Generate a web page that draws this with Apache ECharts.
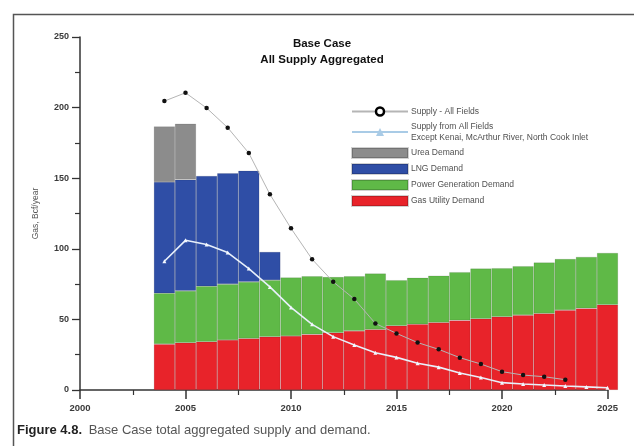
<!DOCTYPE html>
<html>
<head>
<meta charset="utf-8">
<script src="https://cdn.jsdelivr.net/npm/echarts@6/dist/echarts.min.js"></script>
<style>
  html, body { margin: 0; padding: 0; background: #fff; }
  #chart { width: 634px; height: 446px; }
</style>
</head>
<body>
<div id="chart"></div>
<script>
// Demand years (one bar per year) and gas demand by sector, Bcf/year
const years = [2004, 2005, 2006, 2007, 2008, 2009, 2010, 2011, 2012, 2013, 2014,
               2015, 2016, 2017, 2018, 2019, 2020, 2021, 2022, 2023, 2024, 2025];
const gasUtility = [32.5, 33.5, 34.2, 35.4, 36.5, 37.7, 38.2, 39.4, 40.5, 41.9, 42.9,
                    45.5, 46.6, 47.8, 49.3, 50.5, 51.9, 53.0, 54.2, 56.6, 57.8, 60.4];
const powerGen = [36.0, 36.7, 39.3, 39.6, 40.1, 40.1, 41.5, 41.2, 39.5, 38.7, 39.6,
                  32.3, 32.9, 33.2, 34.2, 35.5, 34.4, 34.7, 36.1, 36.2, 36.5, 36.7];
const lng = [78.8, 78.8, 78.1, 78.5, 78.7, 20.0, null, null, null, null, null,
             null, null, null, null, null, null, null, null, null, null, null];
const urea = [39.4, 39.6, null, null, null, null, null, null, null, null, null,
              null, null, null, null, null, null, null, null, null, null, null];

// Supply curves, Bcf/year
const supplyAllYears = [2004, 2005, 2006, 2007, 2008, 2009, 2010, 2011, 2012, 2013,
                        2014, 2015, 2016, 2017, 2018, 2019, 2020, 2021, 2022, 2023];
const supplyAll = [204.6, 210.5, 199.7, 185.8, 167.8, 138.6, 114.5, 92.6, 76.6, 64.4,
                   47.1, 40.1, 33.6, 28.8, 22.9, 18.4, 13.0, 10.6, 9.4, 7.3];
const supplyExceptYears = years;
const supplyExcept = [91.2, 106.0, 103.0, 97.3, 86.0, 73.0, 58.5, 46.5, 37.8, 31.8, 26.4,
                      23.1, 18.9, 16.2, 12.0, 8.8, 5.2, 4.2, 3.5, 2.8, 2.2, 1.6];

// Axis ticks
const xTicks = { min: 2000, max: 2025, interval: 5 };
const yTicks = { min: 0, max: 250, interval: 50 };

const titleLines = ['Base Case', 'All Supply Aggregated'];
const caption = { lead: 'Figure 4.8.', text: 'Base Case total aggregated supply and demand.' };

const names = {
  supplyAll: 'Supply - All Fields',
  supplyExcept: 'Supply from All Fields',
  supplyExceptNote: 'Except Kenai, McArthur River, North Cook Inlet',
  urea: 'Urea Demand',
  lng: 'LNG Demand',
  power: 'Power Generation Demand',
  gas: 'Gas Utility Demand'
};

// Every year on the axis span, used as the slots of the stacked bars
const yearSlots = [];
for (let y = xTicks.min; y <= xTicks.max; y++) yearSlots.push(String(y));

const pair = (xs, vs) => xs.map((x, i) => [x, vs[i]]);

const chart = echarts.init(document.getElementById('chart'), null, { renderer: 'canvas' });

const gridLeft = 80, gridRight = 26.5;
const barW = (634 - gridLeft - gridRight) / (xTicks.max - xTicks.min);

const barSeries = (name, values, color) => ({
  name: name,
  type: 'bar',
  stack: 'demand',
  xAxisIndex: 1,
  barWidth: barW,
  clip: false,
  data: pair(years.map(String), values),
  itemStyle: { color: color, borderColor: 'rgba(0,0,0,0.18)', borderWidth: 0.6 },
  emphasis: { disabled: true },
  z: 2
});

const FONT = 'Liberation Sans, Arial, sans-serif';
const axisFont = { fontFamily: FONT, fontSize: 9, fontWeight: 'bold', color: '#3a3a3a' };

chart.setOption({
  animation: false,
  backgroundColor: '#fff',
  legend: {
    orient: 'vertical',
    left: 346,
    top: 101,
    itemWidth: 56,
    itemHeight: 10,
    itemGap: 4,
    selectedMode: false,
    textStyle: {
      fontFamily: FONT,
      fontSize: 8.5,
      lineHeight: 11,
      color: '#505050',
      padding: [0, 0, 0, -2]
    },
    formatter: (n) => n === names.supplyExcept ? n + '\n' + names.supplyExceptNote : n,
    data: [
      { name: names.supplyAll, itemStyle: { color: '#fff', borderColor: '#000', borderWidth: 2.5 } },
      { name: names.supplyExcept, itemStyle: { color: '#a9cbe6' }, lineStyle: { color: '#a9cbe6' } },
      { name: names.urea, icon: 'rect' },
      { name: names.lng, icon: 'rect' },
      { name: names.power, icon: 'rect' },
      { name: names.gas, icon: 'rect' }
    ]
  },
  grid: { left: gridLeft, right: gridRight, top: 37, bottom: 56, containLabel: false },
  xAxis: [
    {
      type: 'value',
      min: xTicks.min,
      max: xTicks.max,
      interval: xTicks.interval,
      axisLine: { show: true, lineStyle: { color: '#333', width: 1.5 } },
      axisTick: { show: true, length: 9, lineStyle: { color: '#333', width: 1.5 } },
      minorTick: { show: true, splitNumber: 2, length: 5, lineStyle: { color: '#333', width: 1.2 } },
      splitLine: { show: false },
      axisLabel: Object.assign({}, axisFont, { margin: 13, fontSize: 9.5, formatter: (v) => String(v) })
    },
    {
      // slot axis for the yearly bars, sharing the same span as the year axis
      type: 'category',
      data: yearSlots,
      boundaryGap: false,
      show: false
    }
  ],
  yAxis: {
    type: 'value',
    min: yTicks.min,
    max: yTicks.max,
    interval: yTicks.interval,
    name: 'Gas, Bcf/year',
    nameLocation: 'middle',
    nameGap: 40,
    nameRotate: 90,
    nameTextStyle: { fontFamily: FONT, fontSize: 8.5, color: '#555' },
    axisLine: { show: true, lineStyle: { color: '#333', width: 1.5 } },
    axisTick: { show: true, length: 8, lineStyle: { color: '#333', width: 1.3 } },
    minorTick: { show: true, splitNumber: 2, length: 5, lineStyle: { color: '#333', width: 1.2 } },
    splitLine: { show: false },
    axisLabel: Object.assign({ margin: 11 }, axisFont)
  },
  series: [
    barSeries(names.gas, gasUtility, '#e8232a'),
    barSeries(names.power, powerGen, '#5fb947'),
    barSeries(names.lng, lng, '#2f4ea6'),
    barSeries(names.urea, urea, '#8c8c8c'),
    {
      name: names.supplyAll,
      type: 'line',
      xAxisIndex: 0,
      data: pair(supplyAllYears, supplyAll),
      symbol: 'circle',
      symbolSize: 4.5,
      itemStyle: { color: '#111' },
      lineStyle: { color: '#b5b5b5', width: 1 },
      emphasis: { disabled: true },
      z: 5
    },
    {
      name: names.supplyExcept,
      type: 'line',
      xAxisIndex: 0,
      data: pair(supplyExceptYears, supplyExcept),
      symbol: 'triangle',
      symbolSize: 4,
      itemStyle: { color: '#f4f8ff' },
      lineStyle: { color: '#e8f0fb', width: 1.6 },
      emphasis: { disabled: true },
      z: 5
    }
  ],
  graphic: [
    {
      type: 'rect',
      shape: { x: 13.5, y: 14.5, width: 640, height: 440 },
      style: { fill: 'none', stroke: '#555', lineWidth: 1.5 },
      silent: true
    },
    {
      // two-line heading, centred over the plot
      type: 'text',
      x: 322,
      y: 36,
      style: {
        text: titleLines.join('\n'),
        align: 'center',
        verticalAlign: 'top',
        fontFamily: FONT,
        fontSize: 11.5,
        fontWeight: 'bold',
        fill: '#111',
        lineHeight: 16
      }
    },
    {
      type: 'text',
      left: 17,
      top: 424,
      style: {
        text: '{b|' + caption.lead + '}  {r|' + caption.text + '}',
        rich: {
          b: { fontFamily: FONT, fontSize: 13, fontWeight: 'bold', fill: '#222' },
          r: { fontFamily: FONT, fontSize: 13, fill: '#555' }
        }
      }
    }
  ]
});
</script>
</body>
</html>
